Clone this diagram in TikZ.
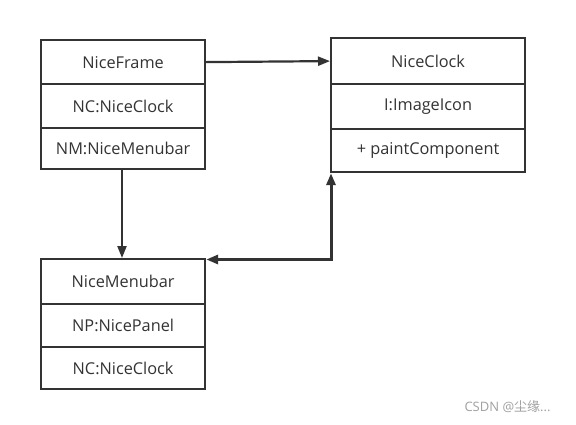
\documentclass[tikz,border=0pt]{standalone}
\usepackage{fontspec}
\setmainfont{Open Sans}
\newfontfamily\cjk{Noto Sans CJK SC}
\usetikzlibrary{arrows.meta,positioning}
\definecolor{ink}{HTML}{333333}
\definecolor{wm}{HTML}{A0A0A0}
\begin{document}
\begin{tikzpicture}[x=1pt,y=-1pt,
  cell/.style={draw=ink,line width=2.2pt,minimum width=164pt,text=ink,font=\fontsize{16.3}{18}\selectfont,inner sep=0pt,anchor=north west},
  cellb/.style={cell,minimum width=194pt},
  conn/.style={draw=ink,line width=2.2pt,-{Triangle[length=12pt,width=9pt]}},
  conn2/.style={draw=ink,line width=3pt,{Triangle[length=12pt,width=9pt]}-{Triangle[length=12pt,width=9pt]}}]
\useasboundingbox (0,0) rectangle (576,424);
\fill[white] (0,0) rectangle (576,424);
% NiceFrame
\node[cell,minimum height=44pt] (f1) at (40,39) {NiceFrame};
\node[cell,minimum height=44pt] (f2) at (40,83) {NC:NiceClock};
\node[cell,minimum height=41pt] (f3) at (40,127) {NM:NiceMenubar};
% NiceClock
\node[cellb,minimum height=46pt] (c1) at (330,37) {NiceClock};
\node[cellb,minimum height=45pt] (c2) at (330,83) {I:ImageIcon};
\node[cellb,minimum height=43pt] (c3) at (330,128) {+ paintComponent};
% NiceMenubar
\node[cell,minimum height=45pt] (m1) at (40,258) {NiceMenubar};
\node[cell,minimum height=43pt] (m2) at (40,303) {NP:NicePanel};
\node[cell,minimum height=42pt] (m3) at (40,346) {NC:NiceClock};
% connectors
\draw[conn] (f1.east) -- (c1.west);
\draw[conn] (f3.south -| 122,0) -- (m1.north -| 122,0);
\coordinate (bend) at (331,259.5);
\draw[conn2] (m1.north east |- bend) -- (bend) -- (c3.south west -| bend);
\node[text=wm,font=\fontsize{13}{14}\selectfont,anchor=west] (wmk) at (461,407) {CSDN @{\cjk 尘缘}...};
\end{tikzpicture}
\end{document}
